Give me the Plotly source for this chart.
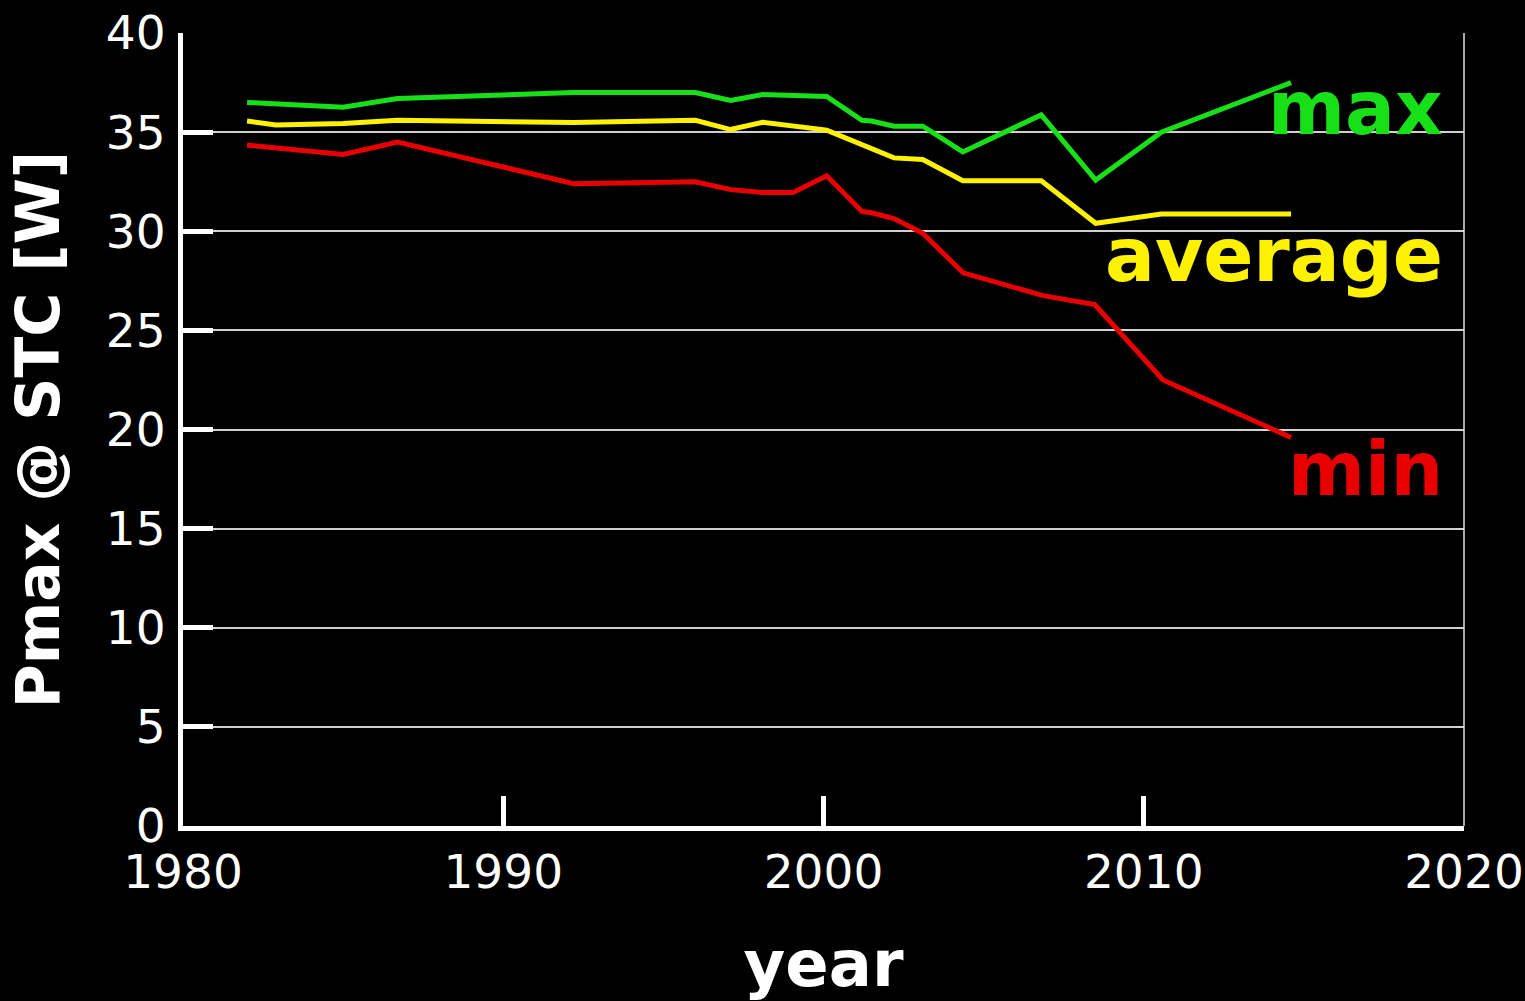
import plotly.graph_objects as go

# --- data ---
max_years = [1982.0, 1985.0, 1986.7, 1992.2, 1996.0, 1997.1, 1998.1, 2000.1, 2001.2, 2001.5, 2002.2, 2003.1, 2004.35, 2006.8, 2008.5, 2010.55, 2014.6]
max_vals  = [36.5, 36.25, 36.7, 37.0, 37.0, 36.6, 36.9, 36.8, 35.6, 35.56, 35.3, 35.3, 34.0, 35.87, 32.58, 35.0, 37.5]

avg_years = [1982.0, 1982.9, 1985.0, 1986.7, 1992.2, 1996.0, 1997.1, 1998.1, 2000.1, 2001.2, 2002.2, 2003.1, 2004.35, 2006.8, 2008.5, 2010.55, 2014.6]
avg_vals  = [35.56, 35.36, 35.44, 35.6, 35.48, 35.6, 35.13, 35.5, 35.1, 34.35, 33.7, 33.62, 32.55, 32.55, 30.4, 30.87, 30.87]

min_years = [1982.0, 1985.0, 1986.7, 1992.2, 1996.0, 1997.1, 1998.1, 1999.05, 2000.1, 2001.2, 2001.5, 2002.2, 2003.1, 2004.36, 2006.86, 2008.47, 2010.6, 2014.6]
min_vals  = [34.35, 33.87, 34.5, 32.4, 32.5, 32.1, 31.95, 31.95, 32.8, 31.0, 30.93, 30.64, 29.9, 27.9, 26.75, 26.3, 22.5, 19.6]

x_ticks = [1980, 1990, 2000, 2010, 2020]
y_ticks = [0, 5, 10, 15, 20, 25, 30, 35, 40]

GREEN = "#18e018"
YELLOW = "#fff200"
RED = "#e80000"
FONT = "DejaVu Sans"

fig = go.Figure()
fig.add_trace(go.Scatter(x=max_years, y=max_vals, mode="lines", line=dict(color=GREEN, width=5)))
fig.add_trace(go.Scatter(x=avg_years, y=avg_vals, mode="lines", line=dict(color=YELLOW, width=5)))
fig.add_trace(go.Scatter(x=min_years, y=min_vals, mode="lines", line=dict(color=RED, width=5)))

# series labels
labels = [("max", GREEN, 0.906), ("average", YELLOW, 0.720), ("min", RED, 0.450)]
for txt, col, yp in labels:
    fig.add_annotation(text="<b>%s</b>" % txt, xref="paper", yref="paper", x=0.985, y=yp,
                       xanchor="right", yanchor="middle", showarrow=False,
                       font=dict(family=FONT, size=74, color=col))

# right frame edge (thin)
fig.add_shape(type="line", xref="paper", yref="paper", x0=1, x1=1, y0=0, y1=1,
              line=dict(color="#e0e0e0", width=1.5))

fig.update_layout(
    width=1525, height=1001,
    paper_bgcolor="black", plot_bgcolor="black",
    showlegend=False,
    margin=dict(l=183, r=61, t=33, b=175, autoexpand=False),
    font=dict(family=FONT, color="white"),
    xaxis=dict(range=[1980, 2020], tickvals=x_ticks, showgrid=False, zeroline=False,
               showline=True, linecolor="white", linewidth=5, automargin=False,
               ticks="inside", ticklen=30, tickwidth=5, tickcolor="white",
               tickfont=dict(family=FONT, size=47, color="white"), ticklabelstandoff=1,
               title=dict(text="<b>year</b>", font=dict(family=FONT, size=64, color="white"), standoff=48)),
    yaxis=dict(range=[0, 40], tickvals=y_ticks, showgrid=True, gridcolor="#d0d0d0", gridwidth=1.5,
               zeroline=False, showline=True, linecolor="white", linewidth=5, automargin=False,
               ticks="inside", ticklen=30, tickwidth=5, tickcolor="white",
               tickfont=dict(family=FONT, size=47, color="white"), ticklabelstandoff=3,
               title=dict(text="<b>Pmax @ STC [W]</b>", font=dict(family=FONT, size=60, color="white"), standoff=28)),
)

fig.write_html("out.html", config={"displayModeBar": False},
               post_script="document.body.style.margin='0';document.body.style.background='black';")
